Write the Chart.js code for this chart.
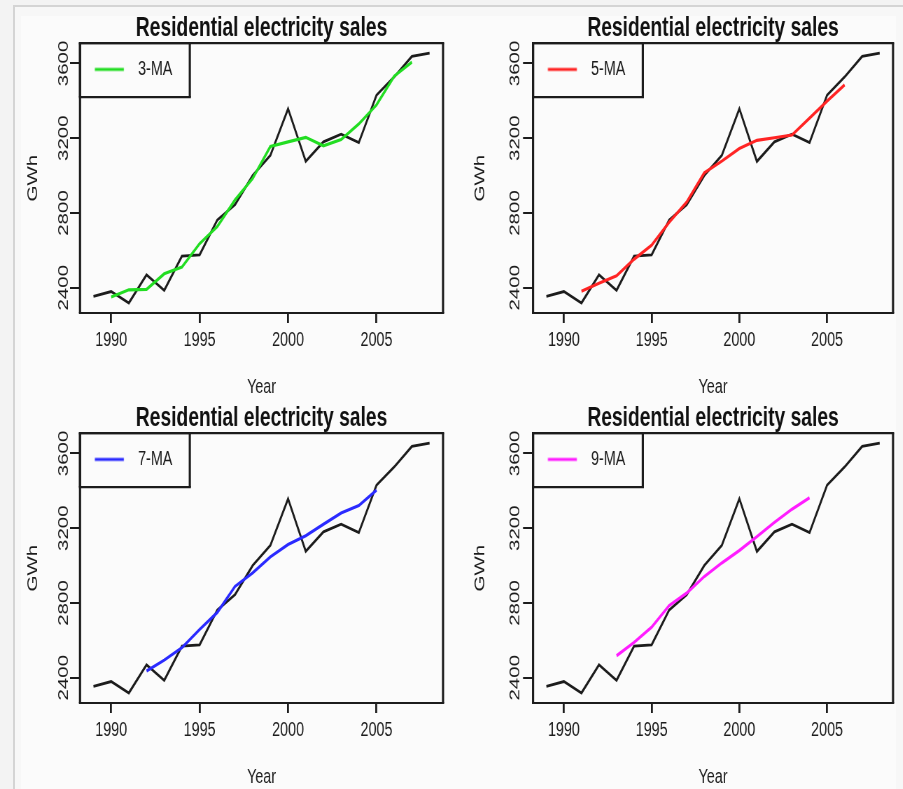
<!DOCTYPE html>
<html lang="en">
<head>
<meta charset="UTF-8">
<title>Residential electricity sales</title>
<script src="https://cdn.jsdelivr.net/npm/chart.js@4.4.0/dist/chart.umd.min.js"></script>
<style>
  html, body { margin: 0; padding: 0; background: #f3f3f3; overflow: hidden; }
  #page { position: relative; width: 903px; height: 789px; }
  #frame { position: absolute; left: 13px; top: 5px; right: 0; bottom: 0; border-left: 2px solid #d4d4d4; border-top: 2px solid #d4d4d4; background: #f7f7f7; }
  #plotbg { position: absolute; left: 21px; top: 16px; width: 875px; bottom: 0; background: #fbfbfb; }
  /* the source picture is squeezed sideways, so every panel is drawn wide and scaled down */
  .panel { position: absolute; width: 640px; height: 400px; transform: scaleX(0.7); transform-origin: 0 0; }
</style>
</head>
<body>
<div id="page">
  <div id="frame"></div>
  <div id="plotbg"></div>
  <div class="panel" style="left:0px;top:0px"><canvas id="ma3" width="640" height="400"></canvas></div>
  <div class="panel" style="left:450px;top:0px"><canvas id="ma5" width="640" height="400"></canvas></div>
  <div class="panel" style="left:0px;top:390px"><canvas id="ma7" width="640" height="400"></canvas></div>
  <div class="panel" style="left:450px;top:390px"><canvas id="ma9" width="640" height="400"></canvas></div>
</div>
<script>
  // elecsales, GWh
  const years = [1989, 1990, 1991, 1992, 1993, 1994, 1995, 1996, 1997, 1998,
                 1999, 2000, 2001, 2002, 2003, 2004, 2005, 2006, 2007, 2008];
  const sales = [2354.34, 2379.71, 2318.52, 2468.99, 2386.09, 2569.47, 2575.72, 2762.72, 2844.50, 3000.70,
                 3108.10, 3357.50, 3075.70, 3180.60, 3221.60, 3176.20, 3430.60, 3527.48, 3637.89, 3655.00];

  // centred moving averages
  const ma3Years = [1990, 1991, 1992, 1993, 1994, 1995, 1996, 1997, 1998, 1999, 2000, 2001, 2002, 2003, 2004, 2005, 2006, 2007];
  const ma3 = [2350.86, 2389.07, 2391.20, 2474.85, 2510.43, 2635.97, 2727.65, 2869.31, 2984.43,
               3155.43, 3180.43, 3204.60, 3159.30, 3192.80, 3276.13, 3378.09, 3531.99, 3606.79];
  const ma5Years = [1991, 1992, 1993, 1994, 1995, 1996, 1997, 1998, 1999, 2000, 2001, 2002, 2003, 2004, 2005, 2006];
  const ma5 = [2381.53, 2424.56, 2463.76, 2552.60, 2627.70, 2750.62, 2858.35, 3014.70,
               3077.30, 3144.52, 3188.70, 3202.32, 3216.94, 3307.30, 3398.75, 3485.43];
  const ma7Years = [1992, 1993, 1994, 1995, 1996, 1997, 1998, 1999, 2000, 2001, 2002, 2003, 2004, 2005];
  const ma7 = [2436.12, 2494.46, 2560.86, 2658.31, 2749.61, 2888.39, 2960.71,
               3047.12, 3112.67, 3160.06, 3221.47, 3281.38, 3321.44, 3404.20];
  const ma9Years = [1993, 1994, 1995, 1996, 1997, 1998, 1999, 2000, 2001, 2002, 2003, 2004];
  const ma9 = [2517.78, 2589.60, 2670.53, 2785.98, 2853.39, 2941.67,
               3014.13, 3080.85, 3155.06, 3230.94, 3301.74, 3362.51];

  const xTicks = [1990, 1995, 2000, 2005];
  const yTicks = [2400, 2600, 2800, 3000, 3200, 3400, 3600];
  const yLabels = [2400, 2800, 3200, 3600];
  const xRange = [1988.24, 2008.76];
  const yRange = [2265, 3708.5];

  const titleText = "Residential electricity sales";
  const ink = "#1c1c1c";
  const squeeze = 0.7;
  const legendPadRight = 25, legendPadBottom = 17.5;
  Chart.defaults.font.family = '"Liberation Sans", Arial, Helvetica, sans-serif';

  const pts = (xs, ys) => xs.map((x, i) => ({ x: x, y: ys[i] }));

  // short line with a little gap after it, used as the legend key
  function lineKey(color) {
    const c = document.createElement("canvas");
    c.width = 57; c.height = 6;
    const g = c.getContext("2d");
    g.strokeStyle = color;
    g.lineWidth = 3.2;
    g.beginPath(); g.moveTo(5.4, 3); g.lineTo(46.8, 3); g.stroke();
    return c;
  }

  // legend sits in the top-left corner of the plot, like R's legend("topleft")
  const legendCorner = {
    id: "legendCorner",
    afterLayout(chart) {
      const a = chart.chartArea, lg = chart.legend;
      lg.left = a.left;
      lg.top = a.top;
      lg.bottom = a.bottom;
      lg.right = a.left + lg.width;
      lg.height = a.bottom - a.top;
    }
  };

  // box around the plot and around the legend (vertical edges thicker to survive the squeeze)
  function frame(ctx, l, t, r, b, w) {
    ctx.lineWidth = w;
    ctx.beginPath(); ctx.moveTo(l - w / squeeze / 2, t); ctx.lineTo(r + w / squeeze / 2, t);
    ctx.moveTo(l - w / squeeze / 2, b); ctx.lineTo(r + w / squeeze / 2, b); ctx.stroke();
    ctx.lineWidth = w / squeeze;
    ctx.beginPath(); ctx.moveTo(l, t); ctx.lineTo(l, b); ctx.moveTo(r, t); ctx.lineTo(r, b); ctx.stroke();
  }
  const boxPlugin = {
    id: "rbox",
    afterDraw(chart) {
      const ctx = chart.ctx;
      const a = chart.chartArea;
      ctx.save();
      ctx.strokeStyle = ink;
      frame(ctx, a.left, a.top, a.right, a.bottom, 2.2);
      const hit = chart.legend.legendHitBoxes[0];
      if (hit) {
        frame(ctx, a.left, a.top, hit.left + hit.width + legendPadRight, hit.top + hit.height + legendPadBottom, 2.2);
      }
      ctx.restore();
    }
  };

  function panel(id, maYears, maValues, label, color, opts) {
    new Chart(document.getElementById(id), {
      type: "line",
      data: {
        datasets: [
          { label: label, data: pts(maYears, maValues), borderColor: color, backgroundColor: color,
            borderWidth: 3.2, pointRadius: 0, pointStyle: lineKey(color), tension: 0 },
          { label: "data", data: pts(years, sales), borderColor: ink, backgroundColor: ink,
            borderWidth: 2.8, pointRadius: 0, tension: 0 }
        ]
      },
      options: {
        responsive: false,
        animation: false,
        events: [],
        layout: { padding: { left: 0, right: 7.1, top: 0, bottom: 0 } },
        plugins: {
          tooltip: { enabled: false },
          title: { display: true, fullSize: false, text: titleText, color: "#111",
                   font: { size: 27.5, weight: "bold", lineHeight: 1.1 }, padding: { top: 12.9, bottom: 0 } },
          legend: {
            position: "chartArea", align: "start",
            labels: { usePointStyle: true, pointStyleWidth: 56.6, padding: 16, color: ink,
                      font: { size: 20.5 }, filter: item => item.datasetIndex === 0 }
          }
        },
        scales: {
          x: {
            type: "linear", min: xRange[0], max: xRange[1],
            afterBuildTicks: s => { s.ticks = xTicks.map(v => ({ value: v })); },
            afterFit: s => { s.height = 87; },
            ticks: { color: ink, font: { size: 20.5 }, padding: 4.7, callback: v => String(v) },
            grid: { drawOnChartArea: false, drawTicks: true, tickLength: 10, color: ink, lineWidth: 2.8 },
            border: { display: false },
            title: { display: true, text: "Year", color: ink, font: { size: 20.5 }, padding: { top: 0, bottom: 0 } }
          },
          y: {
            min: yRange[0], max: yRange[1],
            afterBuildTicks: s => { s.ticks = yTicks.map(v => ({ value: v })); },
            afterFit: s => { s.width = opts.yWidth; },
            ticks: { color: ink, font: { size: 20.5 }, minRotation: 90, maxRotation: 90,
                     crossAlign: "center", padding: opts.tickPad,
                     callback: v => yLabels.includes(v) ? String(v) : "" },
            grid: { drawOnChartArea: false, drawTicks: true, tickLength: 14.3, color: ink, lineWidth: 2 },
            border: { display: false },
            title: { display: true, text: "GWh", color: ink, font: { size: 20.5 }, padding: { top: opts.titlePad, bottom: 0 } }
          }
        }
      },
      plugins: [legendCorner, boxPlugin]
    });
  }

  const leftOpts = { yWidth: 114.3, tickPad: -14.2, titlePad: 34.8 };
  const rightOpts = { yWidth: 118.6, tickPad: -11.4, titlePad: 31.3 };

  panel("ma3", ma3Years, ma3, "3-MA", "#22dd22", leftOpts);
  panel("ma5", ma5Years, ma5, "5-MA", "#ff2424", rightOpts);
  panel("ma7", ma7Years, ma7, "7-MA", "#2a2aff", leftOpts);
  panel("ma9", ma9Years, ma9, "9-MA", "#ff1cff", rightOpts);
</script>
</body>
</html>
